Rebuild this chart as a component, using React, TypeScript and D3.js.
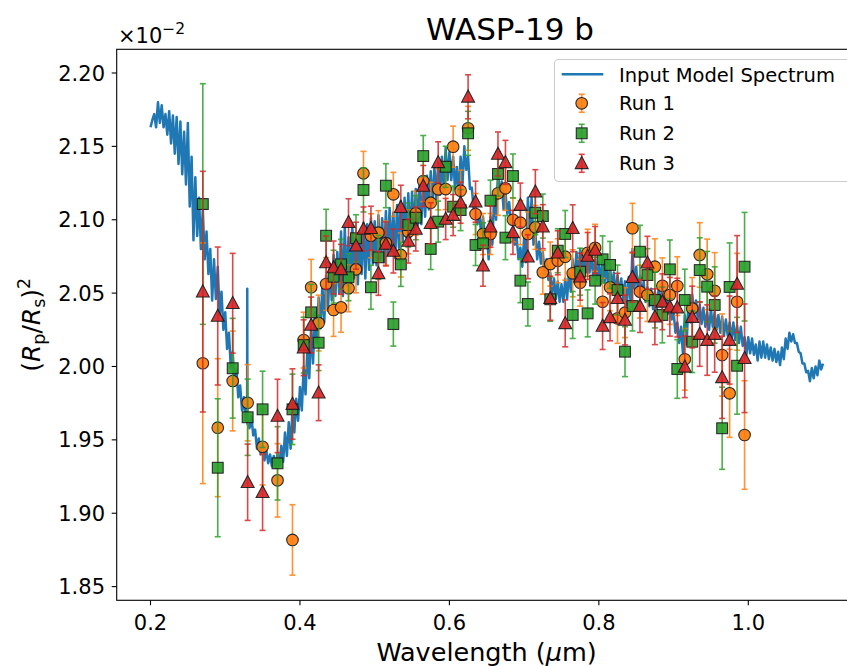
import React from 'react';
import * as d3 from 'd3';

// ---------- data ----------
const wavelengths = [
  0.27, 0.29, 0.31, 0.33, 0.35, 0.37, 0.39,
  0.405, 0.415, 0.425, 0.435, 0.445, 0.455, 0.465, 0.475, 0.485, 0.495,
  0.505, 0.515, 0.525, 0.535, 0.545, 0.555, 0.565, 0.575, 0.585, 0.595,
  0.605, 0.615, 0.625, 0.635, 0.645, 0.655, 0.665, 0.675, 0.685, 0.695,
  0.705, 0.715, 0.725, 0.735, 0.745, 0.755, 0.765, 0.775, 0.785, 0.795,
  0.805, 0.815, 0.825, 0.835, 0.845, 0.855, 0.865, 0.875, 0.885, 0.895,
  0.905, 0.915, 0.925, 0.935, 0.945, 0.955, 0.965, 0.975, 0.985, 0.995,
];

const run1 = [
  2.0022, 1.9583, 1.9901, 1.9753, 1.9453, 1.9224, 1.8818,
  2.0180, 2.0540, 2.0296, 2.0562, 2.0385, 2.0403, 2.0533, 2.0662, 2.1316, 2.0891,
  2.0912, 2.0841, 2.1173, 2.0760, 2.0918, 2.1044, 2.1264, 2.1116, 2.1207, 2.1209,
  2.1498, 2.1198, 2.1623, 2.1039, 2.0903, 2.0903, 2.1180, 2.1214, 2.1000, 2.0980,
  2.0903, 2.0948, 2.0642, 2.0698, 2.0720, 2.0748, 2.0635, 2.0571, 2.0775, 2.0809,
  2.0441, 2.0540, 2.0328, 2.0367, 2.0942, 2.0510, 2.0487, 2.0680, 2.0550, 2.0487,
  2.0548, 2.0049, 2.0396, 2.0760, 2.0628, 2.0516, 2.0078, 1.9817, 2.0441, 1.9533,
];

const run2 = [
  2.1107, 1.9310, 1.9988, 1.9654, 1.9708, 1.9340, 1.9708,
  2.0146, 2.0369, 2.0162, 2.0891, 2.0612, 2.0696, 2.0608, 2.0874, 2.1203, 2.0540,
  2.0744, 2.1232, 2.0289, 2.0696, 2.0964, 2.1014, 2.1434, 2.0801, 2.0987, 2.1361,
  2.1089, 2.1066, 2.1589, 2.0828, 2.0839, 2.1130, 2.1312, 2.0878, 2.1298, 2.0585,
  2.0426, 2.1048, 2.1025, 2.0458, 2.0789, 2.0903, 2.0351, 2.0646, 2.0362, 2.0585,
  2.0730, 2.0692, 2.0521, 2.0101, 2.0412, 2.0782, 2.0623, 2.0453, 2.0351, 2.0662,
  1.9983, 2.0453, 2.0169, 2.0657, 2.0544, 2.0419, 1.9579, 2.0542, 2.0005, 2.0680,
];

const run3 = [
  2.0510, 2.0344, 2.0431, 1.9211, 1.9143, 1.9663, 1.9744,
  2.0128, 2.0283, 1.9821, 2.0709, 2.0675, 2.0662, 2.0983, 2.0823, 2.0937, 2.0942,
  2.0635, 2.0835, 2.0787, 2.1085, 2.0855, 2.0937, 2.1230, 2.0976, 2.1391, 2.1005,
  2.1032, 2.1116, 2.1838, 2.1123, 2.0687, 2.0953, 2.1448, 2.1391, 2.0914, 2.1100,
  2.0748, 2.1191, 2.0953, 2.0465, 2.0775, 2.0294, 2.0942, 2.0612, 2.0753, 2.0794,
  2.0276, 2.0335, 2.0465, 2.0317, 2.0608, 2.0412, 2.0707, 2.0339, 2.0441, 2.0407,
  2.0401, 1.9998, 2.0337, 2.0221, 2.0180, 2.0221, 1.9926, 2.0180, 2.0562, 2.0056,
];

const binErr = [
  0.082, 0.047, 0.034, 0.026, 0.026, 0.025, 0.024,
  0.019, 0.019, 0.019, 0.018, 0.018, 0.017, 0.016, 0.016, 0.015, 0.015,
  0.015, 0.015, 0.015, 0.015, 0.015, 0.015, 0.014, 0.014, 0.014, 0.014,
  0.014, 0.014, 0.015, 0.014, 0.014, 0.014, 0.015, 0.015, 0.015, 0.015,
  0.015, 0.015, 0.015, 0.015, 0.015, 0.016, 0.016, 0.016, 0.016, 0.016,
  0.016, 0.016, 0.017, 0.017, 0.017, 0.018, 0.018, 0.019, 0.019, 0.020,
  0.020, 0.021, 0.021, 0.022, 0.024, 0.026, 0.028, 0.030, 0.033, 0.037,
];

// model spectrum: [wavelength (um), (Rp/Rs)^2 x 1e2]
const spectrum: [number, number][] = [
  [0.2000, 2.163], [0.2025, 2.168], [0.2050, 2.172], [0.2075, 2.163], [0.2100, 2.180], [0.2125, 2.166],
  [0.2150, 2.178], [0.2175, 2.163], [0.2200, 2.172], [0.2225, 2.158], [0.2250, 2.174], [0.2275, 2.152],
  [0.2300, 2.171], [0.2325, 2.145], [0.2350, 2.170], [0.2375, 2.138], [0.2400, 2.167], [0.2425, 2.131],
  [0.2450, 2.160], [0.2475, 2.124], [0.2500, 2.166], [0.2525, 2.109], [0.2550, 2.143], [0.2575, 2.086],
  [0.2600, 2.129], [0.2625, 2.089], [0.2650, 2.115], [0.2675, 2.080], [0.2700, 2.107], [0.2725, 2.073],
  [0.2750, 2.092], [0.2775, 2.063], [0.2800, 2.080], [0.2825, 2.045], [0.2850, 2.073], [0.2875, 2.046],
  [0.2900, 2.068], [0.2925, 2.035], [0.2950, 2.051], [0.2975, 2.025], [0.3000, 2.037], [0.3025, 2.012],
  [0.3050, 2.023], [0.3075, 1.999], [0.3100, 2.010], [0.3125, 1.987], [0.3150, 1.998], [0.3175, 1.979],
  [0.3200, 1.987], [0.3225, 1.970], [0.3250, 1.979], [0.3275, 1.963], [0.3293, 1.968], [0.3295, 2.053],
  [0.3297, 1.961], [0.3325, 1.958], [0.3350, 1.966], [0.3375, 1.953], [0.3400, 1.957], [0.3425, 1.944],
  [0.3450, 1.951], [0.3475, 1.940], [0.3500, 1.946], [0.3525, 1.936], [0.3550, 1.943], [0.3575, 1.934],
  [0.3600, 1.940], [0.3625, 1.932], [0.3650, 1.939], [0.3675, 1.931], [0.3700, 1.941], [0.3725, 1.932],
  [0.3750, 1.946], [0.3775, 1.935], [0.3800, 1.955], [0.3825, 1.939], [0.3850, 1.962], [0.3875, 1.944],
  [0.3900, 1.971], [0.3925, 1.955], [0.3950, 1.978], [0.3975, 1.963], [0.4000, 1.986], [0.4025, 1.970],
  [0.4050, 2.000], [0.4075, 1.981], [0.4100, 2.013], [0.4125, 1.992], [0.4150, 2.027], [0.4175, 2.002],
  [0.4200, 2.037], [0.4225, 2.016], [0.4250, 2.047], [0.4275, 2.026], [0.4300, 2.055], [0.4325, 2.030],
  [0.4350, 2.062], [0.4375, 2.038], [0.4400, 2.070], [0.4425, 2.045], [0.4450, 2.076], [0.4475, 2.048],
  [0.4500, 2.078], [0.4525, 2.050], [0.4550, 2.092], [0.4575, 2.048], [0.4600, 2.095], [0.4625, 2.055],
  [0.4650, 2.088], [0.4675, 2.050], [0.4700, 2.096], [0.4725, 2.060], [0.4750, 2.088], [0.4775, 2.056],
  [0.4800, 2.092], [0.4825, 2.063], [0.4850, 2.098], [0.4875, 2.060], [0.4900, 2.097], [0.4925, 2.066],
  [0.4950, 2.101], [0.4975, 2.070], [0.5000, 2.099], [0.5025, 2.069], [0.5050, 2.103], [0.5075, 2.073],
  [0.5100, 2.101], [0.5125, 2.071], [0.5150, 2.106], [0.5175, 2.076], [0.5200, 2.108], [0.5225, 2.078],
  [0.5250, 2.105], [0.5275, 2.074], [0.5300, 2.110], [0.5325, 2.081], [0.5350, 2.113], [0.5375, 2.085],
  [0.5400, 2.115], [0.5425, 2.088], [0.5450, 2.118], [0.5475, 2.088], [0.5500, 2.119], [0.5525, 2.092],
  [0.5550, 2.121], [0.5575, 2.096], [0.5600, 2.124], [0.5625, 2.097], [0.5650, 2.127], [0.5675, 2.102],
  [0.5700, 2.130], [0.5725, 2.107], [0.5750, 2.133], [0.5775, 2.110], [0.5800, 2.136], [0.5825, 2.114],
  [0.5850, 2.139], [0.5875, 2.117], [0.5900, 2.143], [0.5925, 2.121], [0.5950, 2.149], [0.5975, 2.127],
  [0.6000, 2.146], [0.6025, 2.127], [0.6050, 2.143], [0.6075, 2.121], [0.6100, 2.136], [0.6125, 2.117],
  [0.6150, 2.143], [0.6175, 2.124], [0.6200, 2.150], [0.6225, 2.134], [0.6250, 2.143], [0.6275, 2.121],
  [0.6300, 2.122], [0.6325, 2.107], [0.6350, 2.112], [0.6375, 2.097], [0.6400, 2.105], [0.6425, 2.090],
  [0.6450, 2.102], [0.6475, 2.087], [0.6500, 2.092], [0.6525, 2.073], [0.6550, 2.102], [0.6575, 2.083],
  [0.6600, 2.119], [0.6625, 2.100], [0.6650, 2.132], [0.6675, 2.117], [0.6700, 2.126], [0.6725, 2.107],
  [0.6750, 2.119], [0.6775, 2.104], [0.6800, 2.112], [0.6825, 2.097], [0.6850, 2.098], [0.6875, 2.083],
  [0.6900, 2.088], [0.6925, 2.073], [0.6950, 2.081], [0.6975, 2.068], [0.7000, 2.088], [0.7025, 2.071],
  [0.7050, 2.115], [0.7075, 2.090], [0.7100, 2.115], [0.7125, 2.083], [0.7150, 2.092], [0.7175, 2.073],
  [0.7200, 2.085], [0.7225, 2.070], [0.7250, 2.078], [0.7275, 2.063], [0.7300, 2.073], [0.7325, 2.059],
  [0.7350, 2.064], [0.7375, 2.049], [0.7400, 2.060], [0.7425, 2.046], [0.7450, 2.058], [0.7475, 2.044],
  [0.7500, 2.056], [0.7525, 2.044], [0.7550, 2.060], [0.7575, 2.046], [0.7600, 2.064], [0.7625, 2.051],
  [0.7650, 2.073], [0.7675, 2.057], [0.7700, 2.078], [0.7725, 2.063], [0.7750, 2.080], [0.7775, 2.065],
  [0.7800, 2.078], [0.7825, 2.064], [0.7850, 2.078], [0.7875, 2.064], [0.7900, 2.076], [0.7925, 2.061],
  [0.7950, 2.073], [0.7975, 2.059], [0.8000, 2.071], [0.8025, 2.056], [0.8050, 2.073], [0.8075, 2.057],
  [0.8100, 2.069], [0.8125, 2.054], [0.8150, 2.068], [0.8175, 2.053], [0.8200, 2.064], [0.8225, 2.049],
  [0.8250, 2.062], [0.8275, 2.048], [0.8300, 2.060], [0.8325, 2.045], [0.8350, 2.058], [0.8375, 2.042],
  [0.8400, 2.061], [0.8425, 2.044], [0.8450, 2.080], [0.8475, 2.053], [0.8500, 2.068], [0.8525, 2.049],
  [0.8550, 2.062], [0.8575, 2.048], [0.8600, 2.058], [0.8625, 2.044], [0.8650, 2.054], [0.8675, 2.041],
  [0.8700, 2.053], [0.8725, 2.039], [0.8750, 2.051], [0.8775, 2.039], [0.8800, 2.053], [0.8825, 2.041],
  [0.8850, 2.054], [0.8875, 2.042], [0.8900, 2.049], [0.8925, 2.036], [0.8950, 2.044], [0.8975, 2.032],
  [0.9000, 2.037], [0.9025, 2.023], [0.9050, 2.030], [0.9075, 2.016], [0.9100, 2.027], [0.9125, 2.009],
  [0.9150, 2.035], [0.9175, 2.015], [0.9200, 2.047], [0.9225, 2.030], [0.9250, 2.049], [0.9275, 2.035],
  [0.9300, 2.045], [0.9325, 2.032], [0.9350, 2.042], [0.9375, 2.029], [0.9400, 2.040], [0.9425, 2.027],
  [0.9450, 2.037], [0.9475, 2.025], [0.9500, 2.039], [0.9525, 2.027], [0.9550, 2.037], [0.9575, 2.025],
  [0.9600, 2.035], [0.9625, 2.023], [0.9650, 2.034], [0.9675, 2.021], [0.9700, 2.032], [0.9725, 2.021],
  [0.9750, 2.030], [0.9775, 2.018], [0.9800, 2.030], [0.9825, 2.018], [0.9850, 2.028], [0.9875, 2.016],
  [0.9900, 2.027], [0.9925, 2.014], [0.9950, 2.020], [0.9975, 2.008], [1.0000, 2.020], [1.0025, 2.009],
  [1.0050, 2.019], [1.0075, 2.008], [1.0100, 2.015], [1.0125, 2.004], [1.0150, 2.017], [1.0175, 2.006],
  [1.0200, 2.017], [1.0225, 2.006], [1.0250, 2.015], [1.0275, 2.005], [1.0300, 2.013], [1.0325, 2.004],
  [1.0350, 2.012], [1.0375, 2.003], [1.0400, 2.010], [1.0425, 2.001], [1.0450, 2.013], [1.0475, 2.005],
  [1.0500, 2.019], [1.0525, 2.012], [1.0550, 2.023], [1.0575, 2.017], [1.0600, 2.022], [1.0625, 2.016],
  [1.0650, 2.016], [1.0675, 2.010], [1.0700, 2.009], [1.0725, 2.002], [1.0750, 2.002], [1.0775, 1.996],
  [1.0800, 1.997], [1.0825, 1.990], [1.0850, 1.999], [1.0875, 1.992], [1.0900, 2.000], [1.0925, 1.994],
  [1.0950, 2.004], [1.0975, 1.998], [1.1000, 2.002],
];

const xTicks = [0.2, 0.4, 0.6, 0.8, 1.0];
const yTicks = [1.85, 1.9, 1.95, 2.0, 2.05, 2.1, 2.15, 2.2];
const runNames = ['Run 1', 'Run 2', 'Run 3'];
const runColors = ['#ff7f0e', '#2ca02c', '#d62728'];
const runMarkers = ['circle', 'square', 'triangle'];
const modelColor = '#1f77b4';

// ---------- layout ----------
const W = 847, H = 666;
const plot = { left: 116.7, top: 49.3, right: 856.6, bottom: 600.3 };
const FONT = 'DejaVu Sans, Verdana, sans-serif';

const x = d3.scaleLinear().domain([0.2, 1.0]).range([150.5, 748.3]);
const y = d3.scaleLinear().domain([1.85, 2.2]).range([586.6, 73]);

function Marker({ kind, cx, cy, color }: { kind: string; cx: number; cy: number; color: string }) {
  const stroke = '#1a1a1a';
  if (kind === 'circle') return <circle cx={cx} cy={cy} r={5.8} fill={color} stroke={stroke} strokeWidth={1.1} />;
  if (kind === 'square') return <rect x={cx - 5.4} y={cy - 5.4} width={10.8} height={10.8} fill={color} stroke={stroke} strokeWidth={1.1} />;
  const s = 6.8;
  const pts = `${cx},${cy - s} ${cx - s * 0.95},${cy + s * 0.78} ${cx + s * 0.95},${cy + s * 0.78}`;
  return <polygon points={pts} fill={color} stroke={stroke} strokeWidth={1.1} strokeLinejoin="miter" />;
}

function ErrBar({ cx, cy0, cy1, color }: { cx: number; cy0: number; cy1: number; color: string }) {
  return (
    <g stroke={color} strokeWidth={1.6} opacity={0.85}>
      <line x1={cx} x2={cx} y1={cy0} y2={cy1} />
      <line x1={cx - 3} x2={cx + 3} y1={cy0} y2={cy0} />
      <line x1={cx - 3} x2={cx + 3} y1={cy1} y2={cy1} />
    </g>
  );
}

export default function App() {
  const runs = [run1, run2, run3];
  const line = d3.line<[number, number]>().x(d => x(d[0])).y(d => y(d[1]));
  return (
    <svg width={W} height={H} style={{ position: 'absolute', left: 0, top: 0, background: '#fff' }} fontFamily={FONT}>
      <defs>
        <clipPath id="plotclip">
          <rect x={plot.left} y={plot.top} width={plot.right - plot.left} height={plot.bottom - plot.top} />
        </clipPath>
      </defs>
      <rect x={0} y={0} width={W} height={H} fill="#fff" />
      <g clipPath="url(#plotclip)">
        <path d={line(spectrum) || ''} fill="none" stroke={modelColor} strokeWidth={2.5} strokeLinejoin="round" />
        {runs.map((vals, ri) => (
          <g key={ri}>
            {vals.map((v, i) => (
              <ErrBar key={'e' + i} cx={x(wavelengths[i])} cy0={y(v + binErr[i])} cy1={y(v - binErr[i])} color={runColors[ri]} />
            ))}
            {vals.map((v, i) => (
              <g key={'m' + i} opacity={0.92}>
                <Marker kind={runMarkers[ri]} cx={x(wavelengths[i])} cy={y(v)} color={runColors[ri]} />
              </g>
            ))}
          </g>
        ))}
      </g>
      {/* spines */}
      <rect x={plot.left} y={plot.top} width={plot.right - plot.left} height={plot.bottom - plot.top} fill="none" stroke="#000" strokeWidth={1.1} />
      {/* x ticks */}
      {xTicks.map(t => (
        <g key={t}>
          <line x1={x(t)} x2={x(t)} y1={plot.bottom} y2={plot.bottom + 5} stroke="#000" strokeWidth={1.1} />
          <text x={x(t)} y={630} textAnchor="middle" fontSize={21} fill="#000">{t.toFixed(1)}</text>
        </g>
      ))}
      {/* y ticks */}
      {yTicks.map(t => (
        <g key={t}>
          <line x1={plot.left - 5} x2={plot.left} y1={y(t)} y2={y(t)} stroke="#000" strokeWidth={1.1} />
          <text x={105} y={y(t) + 7.6} textAnchor="end" fontSize={21} fill="#000">{t.toFixed(2)}</text>
        </g>
      ))}
      {/* offset text */}
      <text x={118} y={43} fontSize={21} fill="#000">
        ×10<tspan fontSize={15.5} dy={-9}>−2</tspan>
      </text>
      {/* title */}
      <text x={510} y={40} textAnchor="middle" fontSize={31} fill="#000">WASP-19 b</text>
      {/* x label */}
      <text x={486.6} y={661} textAnchor="middle" fontSize={25.5} fill="#000">
        Wavelength (<tspan fontStyle="italic">μ</tspan>m)
      </text>
      {/* y label */}
      <text transform={`translate(40, ${(plot.top + plot.bottom) / 2}) rotate(-90)`} textAnchor="middle" fontSize={25} fill="#000">
        (<tspan fontStyle="italic">R</tspan><tspan fontSize={17.5} dy={5}>p</tspan><tspan dy={-5}>/</tspan><tspan fontStyle="italic">R</tspan><tspan fontSize={17.5} dy={5}>s</tspan><tspan dy={-5}>)</tspan><tspan fontSize={17.5} dy={-10}>2</tspan>
      </text>
      {/* legend */}
      <g>
        <rect x={554.5} y={59.5} width={320} height={122} rx={4} fill="#fff" fillOpacity={0.8} stroke="#cccccc" strokeWidth={1.1} />
        <line x1={561.7} x2={603.3} y1={74.3} y2={74.3} stroke={modelColor} strokeWidth={2.5} />
        <text x={619} y={81.5} fontSize={19.5} fill="#000">Input Model Spectrum</text>
        {runNames.map((n, i) => {
          const cy = 103.3 + i * 30;
          return (
            <g key={n}>
              <ErrBar cx={581.7} cy0={cy - 9} cy1={cy + 9} color={runColors[i]} />
              <g opacity={0.92}><Marker kind={runMarkers[i]} cx={581.7} cy={cy} color={runColors[i]} /></g>
              <text x={619} y={cy + 7} fontSize={19.5} fill="#000">{n}</text>
            </g>
          );
        })}
      </g>
    </svg>
  );
}
